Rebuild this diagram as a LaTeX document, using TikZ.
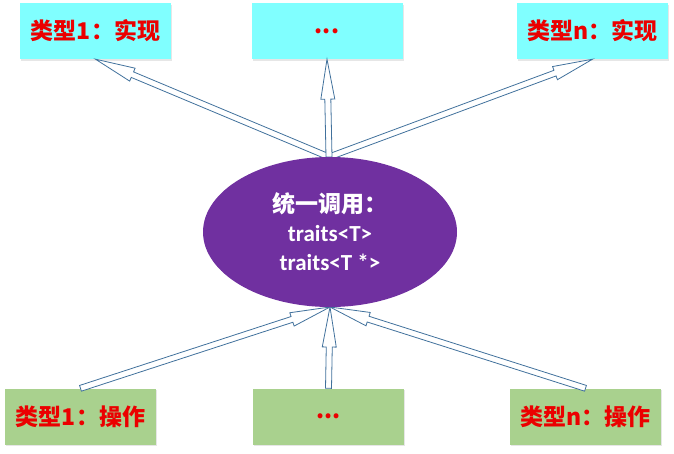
\documentclass[tikz,border=0pt]{standalone}
\usepackage{fontspec}
\setmainfont{Carlito}
\newfontfamily\cjk{Noto Sans CJK SC}
\usepackage{tikz}
\usetikzlibrary{shapes,positioning,shadows,calc}
\usepackage{xcolor}
\definecolor{implcyan}{RGB}{128,255,255}
\definecolor{opgreen}{RGB}{169,209,142}
\definecolor{callpurple}{RGB}{112,48,160}
\definecolor{arrowblue}{RGB}{65,113,156}
\definecolor{labelred}{RGB}{235,0,0}
\tikzstyle{typebox} = [rectangle, minimum width=151pt, minimum height=56pt, text=labelred, font=\cjk\bfseries\fontsize{23}{26}\selectfont, drop shadow={shadow xshift=1pt, shadow yshift=-1.5pt, opacity=0.2}]
\tikzstyle{impl} = [typebox, fill=implcyan]
\tikzstyle{oper} = [typebox, fill=opgreen]
\tikzstyle{caller} = [ellipse, fill=callpurple, text=white, minimum width=254pt, minimum height=150pt, align=center, font=\bfseries\fontsize{23}{29}\selectfont]
\tikzstyle{hollow} = [draw=arrowblue, fill=white, line width=0.8pt, line join=miter]
\newcommand{\hollowarrow}[2]{%
  \coordinate (hb) at ($(#2)!40pt!(#1)$);
  \draw[hollow] ($(#1)!3pt!90:(#2)$) -- ($(hb)!3pt!90:(#2)$) -- ($(hb)!7pt!90:(#2)$) -- (#2)
    -- ($(hb)!7pt!-90:(#2)$) -- ($(hb)!3pt!-90:(#2)$) -- ($(#1)!3pt!-90:(#2)$) -- cycle;}

\begin{document}
\begin{tikzpicture}[x=1pt, y=-1pt]
\useasboundingbox (0,0) rectangle (674,453);

% Implementations
\node (impl1) [impl] at (95.5,31) {类型1：实现};
\node (impldots) [impl] at (327,31) {...};
\node (impln) [impl] at (592.5,31) {类型n：实现};

% Operations
\node (op1) [oper] at (80.5,416.5) {类型1：操作};
\node (opdots) [oper] at (328.5,416.5) {...};
\node (opn) [oper] at (585.5,416.5) {类型n：操作};

% Arrows
\hollowarrow{op1.north}{330,307}
\hollowarrow{opn.north}{330,307}
\hollowarrow{opdots.north}{330,307}
\hollowarrow{329,157}{impl1.south}
\hollowarrow{329,157}{impln.south}
\hollowarrow{329,157}{impldots.south}

% Unified call
\node (call) [caller] at (330,232) {{\cjk 统一调用：}\\traits<T>\\traits<T *>};
\end{tikzpicture}
\end{document}
